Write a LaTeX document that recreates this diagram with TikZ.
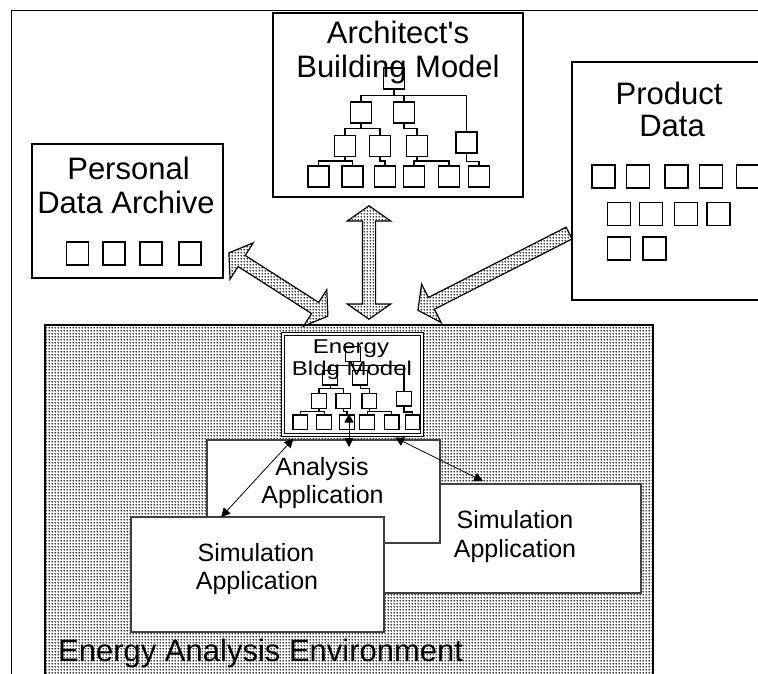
\documentclass[tikz,border=0pt]{standalone}
\usepackage{fontspec}
\setmainfont{Liberation Sans}
\newfontfamily\wideface[FakeStretch=1.2]{Liberation Sans}
\usetikzlibrary{arrows.meta,calc,shapes.arrows,patterns.meta}
\newcommand{\boxfont}{\fontsize{31}{34}\selectfont}
\newcommand{\appfont}{\fontsize{25}{28}\selectfont}
\newcommand{\ebmfont}{\wideface\fontsize{20}{22}\selectfont}
\tikzdeclarepattern{name=stipple, type=uncolored,
  bottom left={(0pt,0pt)}, top right={(3pt,3pt)}, tile size={(3pt,3pt)},
  code={\fill (1.5pt,1.5pt) circle (1pt);}}
\tikzset{
  store/.style={draw, line width=1.6pt, fill=white, inner sep=0pt},
  app/.style={draw=black!75, line width=1.8pt, fill=white, inner sep=0pt},
  leaf/.style={draw, line width=1.2pt, minimum size=21pt, inner sep=0pt},
  twig/.style={line width=1.2pt},
  title/.style={font=\boxfont, anchor=base, inner sep=0pt},
  apptext/.style={font=\appfont, anchor=base, inner sep=0pt},
  fat/.style={draw, line width=1.2pt, pattern=stipple, inner sep=6pt,
              minimum width=42pt, double arrow head extend=15pt, double arrow tip angle=110,
              single arrow head extend=15pt, single arrow tip angle=110},
  link/.style={{Triangle[length=9pt,width=9pt]}-{Triangle[length=9pt,width=9pt]}, line width=0.8pt},
}
% small hierarchy of squares, drawn in the architect box coordinates
\newcommand{\bldgtree}[1]{%
  \node[leaf] (#1r) at (394,78.5) {};
  \node[leaf] (#1a) at (361,112.5) {};
  \node[leaf] (#1b) at (404,112.5) {};
  \node[leaf] (#1c) at (466.5,142.5) {};
  \node[leaf] (#1d) at (345,146) {};
  \node[leaf] (#1e) at (380,146) {};
  \node[leaf] (#1f) at (417,146) {};
  \foreach \n/\x in {1/318.5,2/352.5,3/385,4/414,5/449,6/479}
    \node[leaf] (#1l\n) at (\x,176.5) {};
  \foreach \c in {a,b,c} \draw[twig] (#1r.south) -- +(0,6) -| (#1\c.north);
  \foreach \c in {d,e} \draw[twig] (#1a.south) -- +(0,5) -| (#1\c.north);
  \draw[twig] (#1b.south) -- +(0,5) -| (#1f.north);
  \foreach \c in {l1,l2} \draw[twig] (#1d.south) -- +(0,4) -| (#1\c.north);
  \draw[twig] (#1e.south) -- +(0,4) -| (#1l3.north);
  \foreach \c in {l4,l5} \draw[twig] (#1f.south) -- +(0,4) -| (#1\c.north);
  \draw[twig] (#1c.south) -- +(0,8) -| (#1l6.north);
}
% block arrow between two named points
\newcommand{\fatlink}[3][double arrow]{%
  \path let \p1=($(#3)-(#2)$) in
    node[fat, #1, rotate={atan2(\y1,\x1)}, minimum height={veclen(\x1,\y1)}]
      at ($(#2)!.5!(#3)$) {};}

\begin{document}
\begin{tikzpicture}[x=1pt,y=-1pt]
    \useasboundingbox (0,0) rectangle (758,674);
    \clip (0,0) rectangle (758,674);
    \draw[line width=0.8pt] (11,674) -- (11,10) -- (758,10);
    % --- the three data sources ---
    \node[store, minimum width=250, minimum height=184] (arch) at (398,105) {};
    \node[title] (archt1) at (398,44) {Architect\textquotesingle s};
    \node[title] (archt2) at (398,78) {Building Model};
    \bldgtree{a}
    \node[store, minimum width=191, minimum height=134] (pda) at (127.5,211) {};
    \node[title] (pdat1) at (128.5,179) {Personal};
    \node[title] (pdat2) at (126,213) {Data Archive};
    \foreach \n/\x in {1/77.5,2/114,3/151,4/190}
      \node[leaf, minimum width=22, minimum height=23] (pd\n) at (\x,253.5) {};
    \node[store, minimum width=200, minimum height=238] (prod) at (672,181) {};
    \node[title] (prodt1) at (669,105) {Product};
    \node[title] (prodt2) at (672,137) {Data};
    \foreach \n/\x in {1/603.5,2/638,3/676.5,4/711,5/748}
      \node[leaf, minimum size=23] (pa\n) at (\x,176.5) {};
    \foreach \n/\x in {1/619,2/651,3/686,4/718.5}
      \node[leaf, minimum size=23] (pb\n) at (\x,214) {};
    \foreach \n/\x in {1/619,2/654.5}
      \node[leaf, minimum size=23] (pc\n) at (\x,248.5) {};
    % --- the environment ---
    \node[draw, line width=1.6pt, pattern=stipple, minimum width=608, minimum height=375] (env) at (349,512.5) {};
    \node[font=\boxfont, anchor=base west, inner sep=0pt] (envt) at (58,661) {Energy Analysis Environment};
    \node[store, double, double distance=2pt, line width=1.2pt, minimum width=139, minimum height=101] (ebm) at (352.5,384.5) {};
    \begin{scope}[shift={(77.4,298.8)}, scale=0.7, transform shape]
      \bldgtree{e}
    \end{scope}
    \node[font=\ebmfont, anchor=base, inner sep=0pt] (ebmt1) at (351,353) {Energy};
    \node[font=\ebmfont, anchor=base, inner sep=0pt] (ebmt2) at (352,375) {Bldg Model};
    % --- the applications ---
    \node[app, minimum width=281, minimum height=109] (simR) at (500.5,538.5) {};
    \node[app, minimum width=233, minimum height=103] (ana) at (323.5,491.5) {};
    \node[app, minimum width=253, minimum height=115] (simL) at (257.5,574.5) {};
    \node[apptext] (anat1) at (322,475) {Analysis};
    \node[apptext] (anat2) at (322.5,503) {Application};
    \node[apptext] (simRt1) at (515,528) {Simulation};
    \node[apptext] (simRt2) at (515,557) {Application};
    \node[apptext] (simLt1) at (256,561) {Simulation};
    \node[apptext] (simLt2) at (257,589) {Application};
    \draw[link] ($(ebm.south west)+(11,3)$) -- ($(simL.north west)+(91,1)$);
    \draw[link] ($(ebm.south)+(-3.5,-22)$) -- ($(ana.north)+(25.5,8)$);
    \draw[link] ($(ebm.south)+(42.5,2)$) -- ($(simR.north)+(-17.5,-2)$);
    % --- block arrows into the environment ---
    \coordinate (archfoot) at ($(arch.south)+(-29,8)$);
    \coordinate (envtop) at ($(env.north)+(20,-5)$);
    \coordinate (pdafoot) at ($(pda.south east)+(5,-26)$);
    \coordinate (envleft) at ($(env.north)+(-21,-8)$);
    \coordinate (prodfoot) at ($(prod.west)+(0,51)$);
    \coordinate (envright) at ($(env.north)+(71,-15)$);
    \fatlink{archfoot}{envtop}
    \fatlink{pdafoot}{envleft}
    \fatlink[single arrow]{prodfoot}{envright}
\end{tikzpicture}
\end{document}
